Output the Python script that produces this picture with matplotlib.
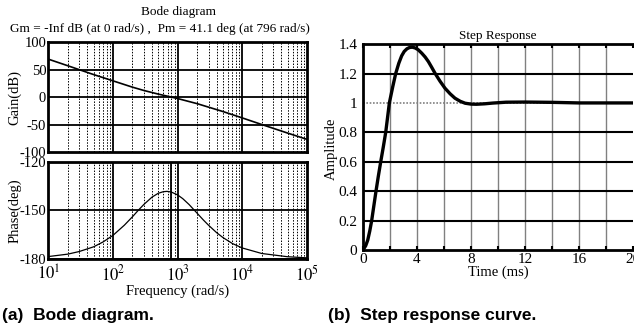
import numpy as np
import matplotlib.pyplot as plt

plt.rcParams["font.family"] = ["Liberation Serif", "DejaVu Serif"]
plt.rcParams["mathtext.fontset"] = "stix"

# open-loop frequency response (rad/s, dB, deg)
freq_gain = [10, 20, 50, 100, 200, 300, 500, 796, 1000, 2000, 5000, 1e4, 2e4, 5e4, 1e5]
gain_db = [69, 57, 41, 29.5, 18, 12, 5.4, 0, -2.7, -12, -26.3, -38, -50, -65.5, -77]

freq_phase = [10, 20, 30, 50, 70, 100, 150, 200, 250, 300, 400, 500, 600, 684, 796,
              1000, 1200, 1500, 2000, 2500, 3000, 4000, 5000, 7000, 1e4, 2e4, 5e4, 1e5]
phase_deg = [-178.5, -177.0, -175.4, -172.5, -169.5, -165.4, -159.1, -153.9, -149.6, -146.3,
             -141.8, -139.4, -138.4, -138.2, -138.6, -140.4, -142.7, -146.3, -151.7, -155.9,
             -159.1, -163.7, -166.7, -170.4, -173.2, -176.6, -178.6, -179.3]
pm_freq = 796

# closed-loop step response
t_ms = [0, 0.2, 0.35, 0.5, 0.64, 0.8, 0.96, 1.13, 1.31, 1.5, 1.68, 1.95, 2.2, 2.42, 2.65,
        2.86, 3.05, 3.25, 3.45, 3.65, 3.85, 4.08, 4.35, 4.6, 4.84, 5.08, 5.33, 5.7, 6.07,
        6.45, 6.81, 7.2, 7.56, 8.0, 8.4, 9.0, 9.6, 10.6, 12, 14, 16, 18, 20]
amp = [0, 0.03, 0.068, 0.13, 0.2, 0.3, 0.4, 0.5, 0.6, 0.7, 0.8, 1.0, 1.11, 1.2, 1.27,
       1.32, 1.35, 1.368, 1.377, 1.379, 1.374, 1.362, 1.338, 1.312, 1.281, 1.243, 1.202, 1.148, 1.10,
       1.062, 1.032, 1.011, 0.998, 0.992, 0.991, 0.994, 0.999, 1.005, 1.006, 1.004, 1.0, 1.0, 1.0]

fig = plt.figure(figsize=(6.34, 3.29), dpi=100)
ax_g = fig.add_axes([0.0762, 0.538, 0.408, 0.334])
ax_p = fig.add_axes([0.0762, 0.2128, 0.408, 0.295])
ax_s = fig.add_axes([0.5726, 0.240, 0.426, 0.626])


def bode_grid(ax):
    for d in range(1, 5):
        for m in range(2, 10):
            ax.axvline(m * 10 ** d, color="black", lw=0.7, ls=(0, (1.5, 1.5)), zorder=1)
    for d in range(2, 5):
        ax.axvline(10 ** d, color="black", lw=1.3, zorder=1)
    ax.set_xscale("log")
    ax.set_xlim(10, 1e5)
    ax.tick_params(which="both", length=0, pad=1.5)
    for s in ax.spines.values():
        s.set_linewidth(2)


bode_grid(ax_g)
ax_g.plot(freq_gain, gain_db, color="black", lw=1.2, zorder=3)
ax_g.set_ylim(-100, 100)
for y in [-50, 0, 50]:
    ax_g.axhline(y, color="black", lw=1.3, zorder=1)
ax_g.set_yticks([-100, -50, 0, 50, 100])
ax_g.set_yticklabels(["-100", "-50", "0", "50", "100"], fontsize=10.5)
ax_g.set_xticklabels([])
ax_g.set_ylabel("Gain(dB)", fontsize=10.5)
ax_g.yaxis.set_label_coords(-0.105, 0.5)

bode_grid(ax_p)
ax_p.axvline(pm_freq, color="black", lw=1.3, zorder=1)
ax_p.plot(freq_phase, phase_deg, color="black", lw=0.9, zorder=3)
ax_p.set_ylim(-180, -120)
ax_p.axhline(-150, color="black", lw=1.3, zorder=1)
ax_p.axhline(-180, color="black", lw=2, zorder=1)
ax_p.set_yticks([-180, -150, -120])
ax_p.set_yticklabels(["-180", "-150", "-120"], fontsize=10.5)
ax_p.set_xticks([1e1, 1e2, 1e3, 1e4, 1e5])
ax_p.set_xticklabels([r"$10^{1}$", r"$10^{2}$", r"$10^{3}$", r"$10^{4}$", r"$10^{5}$"], fontsize=12)
ax_p.tick_params(axis="x", pad=4)
ax_p.set_xlabel("Frequency (rad/s)", fontsize=10.5, labelpad=0)
ax_p.set_ylabel("Phase(deg)", fontsize=10.5)
ax_p.yaxis.set_label_coords(-0.105, 0.5)

fig.text(0.281, 0.963, "Bode diagram", ha="center", va="center", fontsize=9.5)
fig.text(0.252, 0.911, "Gm = -Inf dB (at 0 rad/s) ,  Pm = 41.1 deg (at 796 rad/s)",
         ha="center", va="center", fontsize=9.5)

# step response panel
for t in range(2, 20, 2):
    ax_s.axvline(t, color="#808080", lw=1.0, zorder=1)
for y in [0.2, 0.4, 0.6, 0.8, 1.2]:
    ax_s.axhline(y, color="black", lw=1.5, zorder=1)
ax_s.axhline(1.0, color="#808080", lw=1.2, ls=(0, (1, 1)), zorder=1)
ax_s.plot(t_ms, amp, color="black", lw=2.4, zorder=3)
ax_s.set_xlim(0, 20)
ax_s.set_ylim(0, 1.4)
ax_s.set_xticks(np.arange(0, 21, 2))
ax_s.set_xticklabels([str(t) if t % 4 == 0 else "" for t in range(0, 21, 2)], fontsize=11)
ax_s.set_yticks([0, 0.2, 0.4, 0.6, 0.8, 1.0, 1.2, 1.4])
ax_s.set_yticklabels(["0", "0.2", "0.4", "0.6", "0.8", "1", "1.2", "1.4"], fontsize=11)
ax_s.tick_params(axis="x", direction="in", top=True, length=3, width=1.5, pad=2)
ax_s.tick_params(axis="y", length=0, pad=4)
for s in ax_s.spines.values():
    s.set_linewidth(2)
ax_s.spines["right"].set_visible(False)
ax_s.set_title("Step Response", fontsize=9.5, pad=4)
ax_s.set_xlabel("Time (ms)", fontsize=10.5, labelpad=0)
ax_s.set_ylabel("Amplitude", fontsize=10.5)
ax_s.yaxis.set_label_coords(-0.095, 0.49)

fig.text(0.003, 0.04, "(a)  Bode diagram.", fontsize=12.5, fontweight="bold",
         family="Liberation Sans", va="center")
fig.text(0.517, 0.04, "(b)  Step response curve.", fontsize=12.5, fontweight="bold",
         family="Liberation Sans", va="center")

fig.savefig("out.png", dpi=100)
